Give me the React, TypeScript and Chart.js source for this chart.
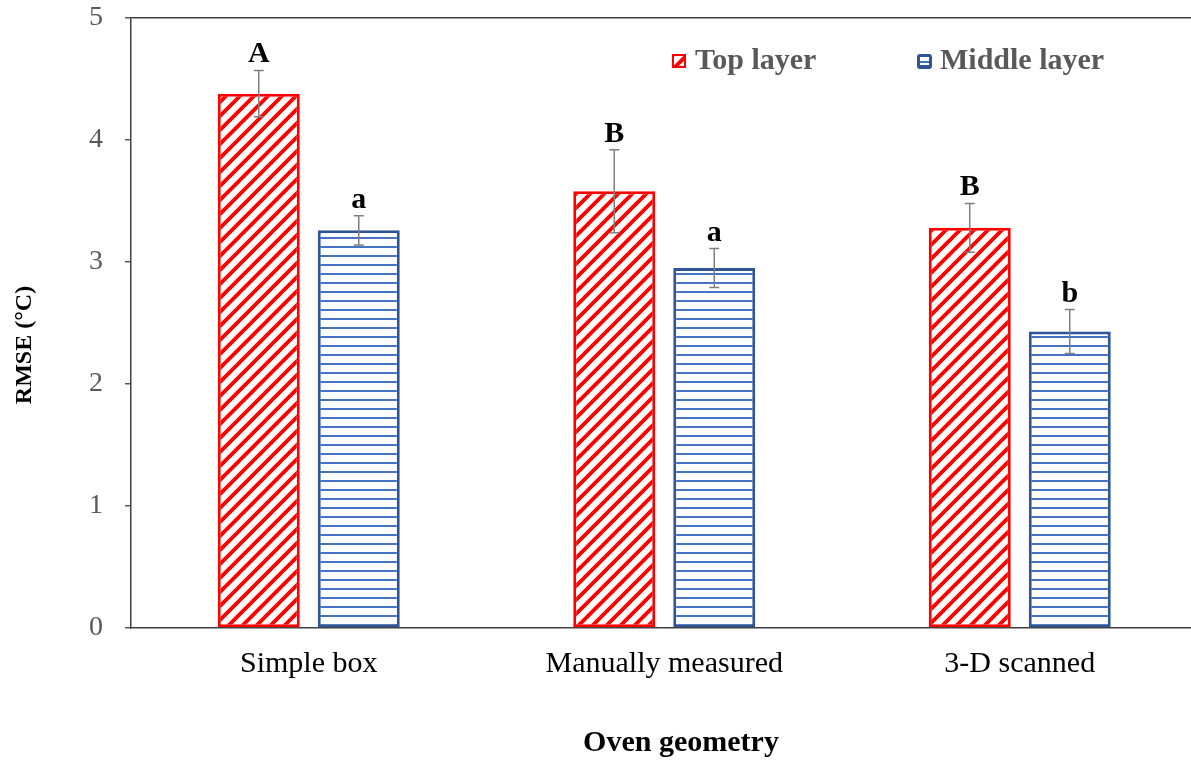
import React, { useEffect, useRef } from "react";
import { Chart, registerables } from "chart.js";

Chart.register(...registerables);

const categories = ["Simple box", "Manually measured", "3-D scanned"];
const topLayer = [4.38, 3.58, 3.28];
const topErr = [0.19, 0.34, 0.2];
const middleLayer = [3.26, 2.95, 2.43];
const middleErr = [0.12, 0.16, 0.18];
const topLetters = ["A", "B", "B"];
const middleLetters = ["a", "a", "b"];
const yTicks = [0, 1, 2, 3, 4, 5];

const SERIF = "'Liberation Serif', 'Times New Roman', serif";

function makeStripePattern(): CanvasPattern | string {
  const c = document.createElement("canvas");
  const s = 14;
  c.width = s;
  c.height = s;
  const g = c.getContext("2d")!;
  g.fillStyle = "#ffffff";
  g.fillRect(0, 0, s, s);
  g.strokeStyle = "#ff0000";
  g.lineWidth = 3.8;
  g.lineCap = "square";
  g.beginPath();
  g.moveTo(-s / 2, s / 2);
  g.lineTo(s / 2, -s / 2);
  g.moveTo(0, s);
  g.lineTo(s, 0);
  g.moveTo(s / 2, s * 1.5);
  g.lineTo(s * 1.5, s / 2);
  g.stroke();
  return g.createPattern(c, "repeat") || "#ff0000";
}

function makeHLinePattern(): CanvasPattern | string {
  const c = document.createElement("canvas");
  c.width = 9;
  c.height = 9;
  const g = c.getContext("2d")!;
  g.fillStyle = "#ffffff";
  g.fillRect(0, 0, 9, 9);
  g.fillStyle = "#4472C4";
  g.fillRect(0, 3, 9, 2);
  return g.createPattern(c, "repeat") || "#4472C4";
}

export default function App() {
  const ref = useRef<HTMLCanvasElement | null>(null);

  useEffect(() => {
    if (!ref.current) return;
    const red = makeStripePattern();
    const blue = makeHLinePattern();

    const overlay = {
      id: "overlay",
      afterDatasetsDraw(chart: any) {
        const ctx = chart.ctx as CanvasRenderingContext2D;
        const y = chart.scales.y;
        const sets = [
          { vals: topLayer, errs: topErr, letters: topLetters },
          { vals: middleLayer, errs: middleErr, letters: middleLetters },
        ];
        ctx.save();
        sets.forEach((s, di) => {
          const meta = chart.getDatasetMeta(di);
          meta.data.forEach((bar: any, i: number) => {
            const x = bar.x;
            const hi = y.getPixelForValue(s.vals[i] + s.errs[i]);
            const lo = y.getPixelForValue(s.vals[i] - s.errs[i]);
            ctx.strokeStyle = "#7f7f7f";
            ctx.lineWidth = 1.5;
            ctx.beginPath();
            ctx.moveTo(x, hi);
            ctx.lineTo(x, lo);
            ctx.moveTo(x - 5, hi);
            ctx.lineTo(x + 5, hi);
            ctx.moveTo(x - 5, lo);
            ctx.lineTo(x + 5, lo);
            ctx.stroke();
            ctx.fillStyle = "#000";
            ctx.font = `bold 30px ${SERIF}`;
            ctx.textAlign = "center";
            ctx.textBaseline = "alphabetic";
            ctx.fillText(s.letters[i], x, hi - 8);
          });
        });
        ctx.restore();
      },
      afterDraw(chart: any) {
        const ctx = chart.ctx as CanvasRenderingContext2D;
        ctx.save();
        // legend
        ctx.font = `bold 30px ${SERIF}`;
        ctx.textBaseline = "middle";
        ctx.textAlign = "left";
        // top layer icon
        ctx.fillStyle = red as any;
        ctx.fillRect(672, 54, 14, 14);
        ctx.strokeStyle = "#ff0000";
        ctx.lineWidth = 2;
        ctx.strokeRect(673, 55, 12, 12);
        ctx.fillStyle = "#595959";
        ctx.fillText("Top layer", 695, 61);
        // middle layer icon
        ctx.fillStyle = "#2F5597";
        ctx.beginPath();
        (ctx as any).roundRect(917, 54, 15, 15, 3);
        ctx.fill();
        ctx.fillStyle = "#ffffff";
        ctx.fillRect(920, 57, 9, 8);
        ctx.fillStyle = "#4472C4";
        ctx.fillRect(920, 61, 9, 2);
        ctx.fillStyle = "#595959";
        ctx.fillText("Middle layer", 940, 61);
        // axis titles
        ctx.fillStyle = "#000";
        ctx.font = `bold 30px ${SERIF}`;
        ctx.textAlign = "center";
        ctx.fillText("Oven geometry", 681, 743);
        ctx.translate(25, 345);
        ctx.rotate(-Math.PI / 2);
        ctx.font = `bold 24px ${SERIF}`;
        ctx.fillText("RMSE (°C)", 0, 0);
        ctx.restore();
      },
    };

    const chart = new Chart(ref.current, {
      type: "bar",
      data: {
        labels: categories,
        datasets: [
          {
            label: "Top layer",
            data: topLayer,
            backgroundColor: red as any,
            borderColor: "#ff0000",
            borderWidth: 3,
            borderSkipped: false,
            categoryPercentage: 0.5626,
            barPercentage: 0.82,
          },
          {
            label: "Middle layer",
            data: middleLayer,
            backgroundColor: blue as any,
            borderColor: "#2F5597",
            borderWidth: 3,
            borderSkipped: false,
            categoryPercentage: 0.5626,
            barPercentage: 0.82,
          },
        ],
      },
      options: {
        responsive: false,
        devicePixelRatio: 1,
        animation: false,
        layout: { padding: { left: 0, top: 18, right: 2.5, bottom: 0 } },
        plugins: { legend: { display: false }, tooltip: { enabled: false } },
        scales: {
          x: {
            grid: { display: false, drawTicks: false },
            border: { display: true, color: "#404040", width: 1.5 },
            ticks: {
              color: "#000",
              font: { family: SERIF, size: 30 },
              padding: 18,
              maxRotation: 0,
            },
            afterFit: (s: any) => {
              s.height = 133;
              s.paddingLeft = 0;
              s.paddingRight = 0;
            },
          },
          y: {
            min: 0,
            max: 5,
            afterBuildTicks: (s: any) => {
              s.ticks = yTicks.map((v) => ({ value: v }));
            },
            ticks: {
              color: "#595959",
              font: { family: SERIF, size: 28 },
              padding: 22,
            },
            grid: {
              drawOnChartArea: true,
              color: (c: any) =>
                c.tick && c.tick.value === 5 ? "#404040" : "rgba(0,0,0,0)",
              tickColor: "#595959",
              tickLength: 6,
              lineWidth: 1.5,
            },
            border: { display: true, color: "#404040", width: 1.5 },
            afterFit: (s: any) => {
              s.width = 131;
              s.paddingTop = 0;
              s.paddingBottom = 0;
            },
          },
        },
      },
      plugins: [overlay],
    });
    return () => chart.destroy();
  }, []);

  return (
    <div
      style={{
        position: "fixed",
        left: 0,
        top: 0,
        width: 1191,
        height: 761,
        overflow: "hidden",
        background: "#fff",
      }}
    >
      <canvas
        ref={ref}
        width={1200}
        height={761}
        style={{ width: 1200, height: 761, display: "block" }}
      />
    </div>
  );
}
